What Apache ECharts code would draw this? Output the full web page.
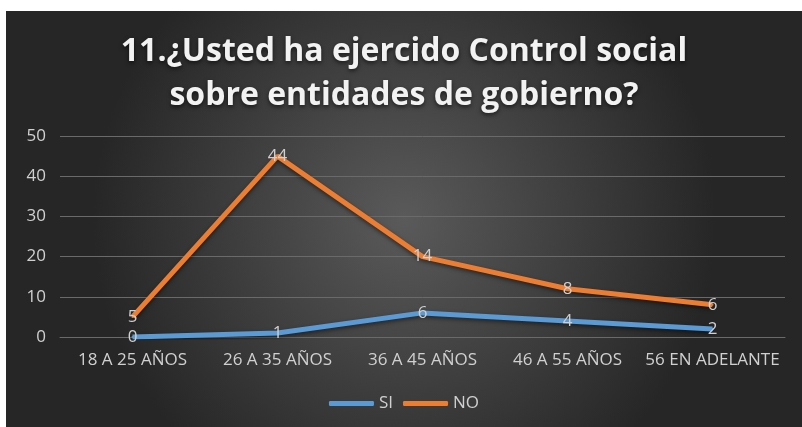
<!DOCTYPE html>
<html>
<head>
<meta charset="utf-8">
<script src="https://cdn.jsdelivr.net/npm/echarts@6/dist/echarts.min.js"></script>
<style>
  html, body { margin: 0; padding: 0; background: #ffffff; }
  #chart { position: absolute; left: 6px; top: 11px; width: 796px; height: 416px; }
</style>
</head>
<body>
<div id="chart"></div>
<script>
// categories and values (stacked line: NO sits on top of SI)
const categories = ['18 A 25 AÑOS', '26 A 35 AÑOS', '36 A 45 AÑOS', '46 A 55 AÑOS', '56 EN ADELANTE']
const si = [0, 1, 6, 4, 2]
const no = [5, 44, 14, 8, 6]

const BLUE = '#5B9BD5'
const ORANGE = '#ED7D31'
const TEXT = '#d0d0d0'

const chart = echarts.init(document.getElementById('chart'))

const lineSeries = (name, data, color) => ({
  name,
  type: 'line',
  stack: 'total',
  data,
  symbol: 'circle',
  symbolSize: 2,
  showSymbol: true,
  lineStyle: {
    color,
    width: 5,
    shadowColor: 'rgba(0,0,0,0.5)',
    shadowBlur: 4,
    shadowOffsetY: 2
  },
  itemStyle: { color },
  label: {
    show: true,
    position: 'inside',
    color: TEXT,
    fontSize: 17,
    fontFamily: 'Open Sans'
  },
  z: name === 'NO' ? 3 : 2
})

chart.setOption({
  animation: false,
  backgroundColor: new echarts.graphic.RadialGradient(0.5, 0.5, 0.75, [
    { offset: 0, color: '#5a5a5a' },
    { offset: 1, color: '#262626' }
  ]),
  title: {
    text: '11.¿Usted ha ejercido Control social\nsobre entidades de gobierno?',
    left: 'center',
    top: 14,
    textStyle: {
      color: '#f2f2f2',
      fontSize: 32,
      fontWeight: 'bold',
      fontFamily: 'Open Sans',
      lineHeight: 44,
      textShadowColor: 'rgba(0,0,0,0.6)',
      textShadowBlur: 4,
      textShadowOffsetY: 2
    }
  },
  legend: {
    bottom: 10,
    left: 'center',
    itemWidth: 45,
    itemHeight: 5,
    itemGap: 10,
    icon: 'roundRect',
    textStyle: { color: TEXT, fontSize: 17, fontFamily: 'Open Sans' },
    data: ['SI', 'NO']
  },
  grid: { left: 54, right: 17, top: 125, bottom: 90 },
  xAxis: {
    type: 'category',
    data: categories,
    boundaryGap: true,
    axisLine: { show: true, lineStyle: { color: '#6a6a6a' } },
    axisTick: { show: false },
    axisLabel: { color: TEXT, fontSize: 17, fontFamily: 'Open Sans', margin: 15, interval: 0 }
  },
  yAxis: {
    type: 'value',
    min: 0,
    max: 50,
    interval: 10,
    axisLine: { show: false },
    axisTick: { show: false },
    splitLine: { lineStyle: { color: '#6a6a6a', width: 1 } },
    axisLabel: { color: TEXT, fontSize: 17, fontFamily: 'Open Sans', margin: 14 }
  },
  series: [
    lineSeries('SI', si, BLUE),
    lineSeries('NO', no, ORANGE)
  ]
})
</script>
</body>
</html>
